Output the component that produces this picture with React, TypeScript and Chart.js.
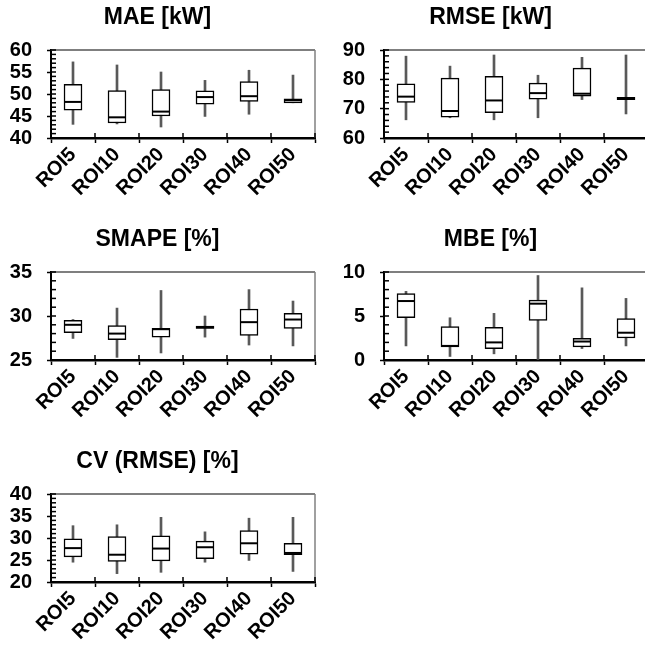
import React, { useEffect, useRef } from "react";
import { Chart, registerables } from "chart.js";

Chart.register(...registerables);
Chart.defaults.font.family = "'Liberation Sans', Arial, sans-serif";

const categories = ["ROI5", "ROI10", "ROI20", "ROI30", "ROI40", "ROI50"];

// MAE [kW]
const maeLow = [43.1, 43.2, 42.5, 44.9, 45.4, 48.0];
const maeQ1 = [46.3, 43.4, 45.0, 47.7, 48.3, 48.0];
const maeMedian = [48.2, 44.7, 46.0, 49.3, 49.5, 48.6];
const maeQ3 = [52.2, 50.8, 51.0, 50.7, 52.8, 48.9];
const maeHigh = [57.3, 56.6, 55.0, 53.1, 55.4, 54.3];

// RMSE [kW]
const rmseLow = [66.2, 66.9, 66.2, 66.9, 73.1, 68.2];
const rmseQ1 = [72.1, 67.1, 68.6, 73.2, 74.3, 73.1];
const rmseMedian = [74.1, 69.2, 72.8, 75.3, 75.1, 73.5];
const rmseQ3 = [78.5, 80.4, 81.0, 78.7, 83.8, 73.9];
const rmseHigh = [87.9, 84.5, 88.3, 81.4, 87.5, 88.3];

// SMAPE [%]
const smapeLow = [27.45, 25.3, 25.8, 27.6, 26.7, 26.6];
const smapeQ1 = [28.1, 27.3, 27.6, 28.6, 27.8, 28.6];
const smapeMedian = [29.0, 28.0, 28.5, 28.7, 29.3, 29.6];
const smapeQ3 = [29.5, 28.9, 28.6, 28.85, 30.8, 30.3];
const smapeHigh = [29.6, 30.9, 32.9, 30.0, 33.0, 31.7];

// MBE [%]
const mbeLow = [1.6, 0.4, 0.7, 0.0, 1.3, 1.6];
const mbeQ1 = [4.8, 1.5, 1.3, 4.5, 1.5, 2.5];
const mbeMedian = [6.7, 1.6, 2.0, 6.4, 2.1, 3.1];
const mbeQ3 = [7.55, 3.8, 3.7, 6.8, 2.45, 4.7];
const mbeHigh = [7.8, 4.8, 5.3, 9.6, 8.2, 7.0];

// CV (RMSE) [%]
const cvLow = [24.5, 21.9, 22.2, 24.5, 24.9, 22.4];
const cvQ1 = [25.7, 24.7, 24.8, 25.3, 26.3, 26.2];
const cvMedian = [27.7, 26.2, 27.6, 27.9, 28.8, 26.6];
const cvQ3 = [29.8, 30.3, 30.5, 29.3, 31.7, 28.8];
const cvHigh = [32.8, 33.0, 34.7, 31.4, 34.5, 34.7];

type Panel = {
  title: string;
  min: number;
  max: number;
  major: number;
  minor: number;
  low: number[];
  q1: number[];
  median: number[];
  q3: number[];
  high: number[];
  left: number;
  top: number;
};

const panels: Panel[] = [
  { title: "MAE [kW]", min: 40, max: 60, major: 5, minor: 1, low: maeLow, q1: maeQ1, median: maeMedian, q3: maeQ3, high: maeHigh, left: 0, top: 0 },
  { title: "RMSE [kW]", min: 60, max: 90, major: 10, minor: 2, low: rmseLow, q1: rmseQ1, median: rmseMedian, q3: rmseQ3, high: rmseHigh, left: 333, top: 0 },
  { title: "SMAPE [%]", min: 25, max: 35, major: 5, minor: 1, low: smapeLow, q1: smapeQ1, median: smapeMedian, q3: smapeQ3, high: smapeHigh, left: 0, top: 222 },
  { title: "MBE [%]", min: 0, max: 10, major: 5, minor: 1, low: mbeLow, q1: mbeQ1, median: mbeMedian, q3: mbeQ3, high: mbeHigh, left: 333, top: 222 },
  { title: "CV (RMSE) [%]", min: 20, max: 40, major: 5, minor: 1, low: cvLow, q1: cvQ1, median: cvMedian, q3: cvQ3, high: cvHigh, left: 0, top: 444 },
];

const CW = 330;
const CH = 215;

const framePlugin = {
  id: "frame",
  afterDatasetsDraw(chart: any, _args: any, opts: any) {
    const { ctx, chartArea } = chart;
    const x = chart.scales.x;
    const y = chart.scales.y;
    ctx.save();
    // top + right border
    ctx.strokeStyle = "#555555";
    ctx.lineWidth = 1.5;
    ctx.beginPath();
    ctx.moveTo(chartArea.left, chartArea.top);
    ctx.lineTo(chartArea.right, chartArea.top);
    ctx.stroke();
    ctx.strokeStyle = "#808080";
    ctx.beginPath();
    ctx.moveTo(chartArea.right, chartArea.top);
    ctx.lineTo(chartArea.right, chartArea.bottom);
    ctx.stroke();
    // y ticks inside (minor + major)
    ctx.strokeStyle = "#000";
    ctx.lineWidth = 1.5;
    const minor = opts.minor;
    for (let v = y.min; v <= y.max + 1e-9; v += minor) {
      const py = y.getPixelForValue(v);
      ctx.beginPath();
      ctx.moveTo(chartArea.left, py);
      ctx.lineTo(chartArea.left + 5, py);
      ctx.stroke();
    }
    // x ticks crossing upward at category boundaries
    for (let i = 0; i <= categories.length; i++) {
      const px = x.getPixelForValue(i - 0.5);
      ctx.beginPath();
      ctx.moveTo(px, chartArea.bottom);
      ctx.lineTo(px, chartArea.bottom - 5);
      ctx.stroke();
    }
    ctx.restore();
  },
};

function BoxPanel({ p }: { p: Panel }) {
  const ref = useRef<HTMLCanvasElement | null>(null);
  useEffect(() => {
    if (!ref.current) return;
    const tickFont = { size: 20, weight: "bold" as const };
    const chart = new Chart(ref.current, {
      type: "bar",
      data: {
        labels: categories,
        datasets: [
          {
            type: "line",
            label: "median",
            data: p.median,
            showLine: false,
            pointStyle: "line",
            pointRadius: 9,
            pointHoverRadius: 9,
            pointBorderWidth: 2,
            pointBorderColor: "#000",
            borderColor: "#000",
            order: 0,
          } as any,
          {
            type: "bar",
            label: "box",
            data: p.q1.map((v, i) => [v, p.q3[i]]),
            backgroundColor: "#ffffff",
            borderColor: "#000",
            borderWidth: 1.5,
            borderSkipped: false,
            barThickness: 18,
            grouped: false,
            order: 1,
          } as any,
          {
            type: "bar",
            label: "whisker",
            data: p.low.map((v, i) => [v, p.high[i]]),
            backgroundColor: "#595959",
            borderWidth: 0,
            barThickness: 2,
            grouped: false,
            order: 2,
          } as any,
        ],
      },
      options: {
        responsive: false,
        animation: false,
        devicePixelRatio: 1,
        layout: { padding: { left: 0, right: 15, top: 0, bottom: 0 } },
        plugins: {
          legend: { display: false },
          tooltip: { enabled: false },
          title: {
            display: true,
            text: p.title,
            color: "#000",
            font: { size: 23, weight: "bold" },
            padding: { top: 4, bottom: 18.4 },
          },
          frame: { minor: p.minor },
        } as any,
        scales: {
          x: {
            offset: true,
            grid: {
              offset: true,
              drawOnChartArea: false,
              drawTicks: true,
              tickLength: 5,
              tickColor: "#000",
              tickWidth: 1.5,
              color: "#000",
            },
            border: { display: true, color: "#000", width: 2.5 },
            ticks: {
              autoSkip: false,
              minRotation: 45,
              maxRotation: 45,
              color: "#000",
              font: tickFont,
              padding: 0,
            },
            afterFit: (s: any) => {
              s.height = CH - 50 - 88;
            },
          },
          y: {
            min: p.min,
            max: p.max,
            ticks: {
              stepSize: p.major,
              autoSkip: false,
              color: "#000",
              font: tickFont,
              padding: 15,
            },
            grid: {
              drawOnChartArea: false,
              drawTicks: true,
              tickLength: 4,
              tickColor: "#000",
              tickWidth: 1.5,
            },
            border: { display: true, color: "#000", width: 2 },
            afterFit: (s: any) => {
              s.width = 51;
            },
          },
        },
      } as any,
      plugins: [framePlugin],
    });
    return () => chart.destroy();
  }, [p]);
  return (
    <canvas
      ref={ref}
      width={CW}
      height={CH}
      style={{ position: "absolute", left: p.left, top: p.top, width: CW, height: CH, display: "block" }}
    />
  );
}

export default function App() {
  return (
    <div
      style={{
        position: "fixed",
        left: 0,
        top: 0,
        width: 645,
        height: 646,
        overflow: "hidden",
        background: "#fff",
      }}
    >
      {panels.map((p) => (
        <BoxPanel key={p.title} p={p} />
      ))}
    </div>
  );
}
